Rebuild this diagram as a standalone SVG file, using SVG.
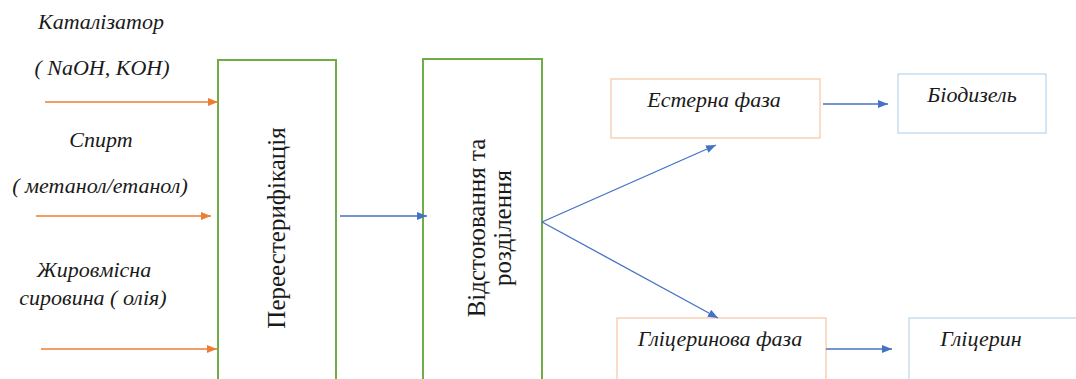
<svg xmlns="http://www.w3.org/2000/svg" width="1076" height="379" viewBox="0 0 1076 379">
<style>
.lbl{font-family:'Liberation Serif','DejaVu Serif',serif;font-style:italic;font-size:22px;fill:#1a1a1a}
.vt{font-family:'Liberation Serif','DejaVu Serif',serif;font-size:25px;fill:#1a1a1a}
.proc{fill:#fff;stroke:#70ad47;stroke-width:2}
.phase{fill:#fff;stroke:#f8cbad;stroke-width:1.3}
.prod{fill:#fff;stroke:#bdd7ee;stroke-width:1.3}
.oa{stroke:#ed7d31;stroke-width:1.3;fill:none;marker-end:url(#ao)}
.ba{stroke:#4472c4;stroke-width:1.3;fill:none;marker-end:url(#ab)}
</style>
<defs>
<marker id="ao" markerWidth="10" markerHeight="8" refX="10" refY="4" orient="auto" markerUnits="userSpaceOnUse"><path d="M0,0 L10,4 L0,8 Z" fill="#ed7d31"/></marker>
<marker id="ab" markerWidth="10" markerHeight="8" refX="10" refY="4" orient="auto" markerUnits="userSpaceOnUse"><path d="M0,0 L10,4 L0,8 Z" fill="#4472c4"/></marker>
</defs>
<rect width="1076" height="379" fill="#fff"/>
<g id="inputs">
<text class="lbl" x="101" y="29" text-anchor="middle">Каталізатор</text>
<text class="lbl" x="102" y="75" text-anchor="middle">( NaOH, KOH)</text>
<text class="lbl" x="101" y="147" text-anchor="middle">Спирт</text>
<text class="lbl" x="100" y="193" text-anchor="middle">( метанол/етанол)</text>
<text class="lbl" x="94" y="277" text-anchor="middle">Жировмісна</text>
<text class="lbl" x="93" y="305" text-anchor="middle">сировина ( олія)</text>
</g>
<g id="node-transesterification">
<rect class="proc" x="218" y="60" width="118" height="322"/>
<text class="vt" transform="translate(285,228) rotate(-90)" text-anchor="middle">Переестерифікація</text>
</g>
<g id="node-settling">
<rect class="proc" x="423" y="59" width="119" height="323"/>
<text class="vt" transform="translate(485,228) rotate(-90)" text-anchor="middle">Відстоювання та</text>
<text class="vt" transform="translate(511,228) rotate(-90)" text-anchor="middle">розділення</text>
</g>
<g id="node-ester">
<rect class="phase" x="611" y="79" width="209" height="59"/>
<text class="lbl" x="714" y="107" text-anchor="middle">Естерна фаза</text>
</g>
<g id="node-biodiesel">
<rect class="prod" x="898" y="74" width="148" height="59"/>
<text class="lbl" x="972" y="102" text-anchor="middle">Біодизель</text>
</g>
<g id="node-glycerol-phase">
<rect class="phase" x="617" y="318" width="209" height="70"/>
<text class="lbl" x="720" y="346" text-anchor="middle">Гліцеринова фаза</text>
</g>
<g id="node-glycerol">
<rect class="prod" x="909" y="318" width="180" height="70"/>
<text class="lbl" x="981" y="346" text-anchor="middle">Гліцерин</text>
</g>
<g id="connectors">
<line class="oa" x1="45" y1="102" x2="218" y2="102"/>
<line class="oa" x1="36" y1="216" x2="211" y2="216"/>
<line class="oa" x1="41" y1="349" x2="217" y2="349"/>
<line class="ba" x1="340" y1="216" x2="427" y2="216"/>
<line class="ba" x1="542" y1="222" x2="716" y2="145"/>
<line class="ba" x1="542" y1="222" x2="718" y2="318"/>
<line class="ba" x1="823" y1="104" x2="888" y2="104"/>
<line class="ba" x1="826" y1="349" x2="892" y2="349"/>
</g>
</svg>
